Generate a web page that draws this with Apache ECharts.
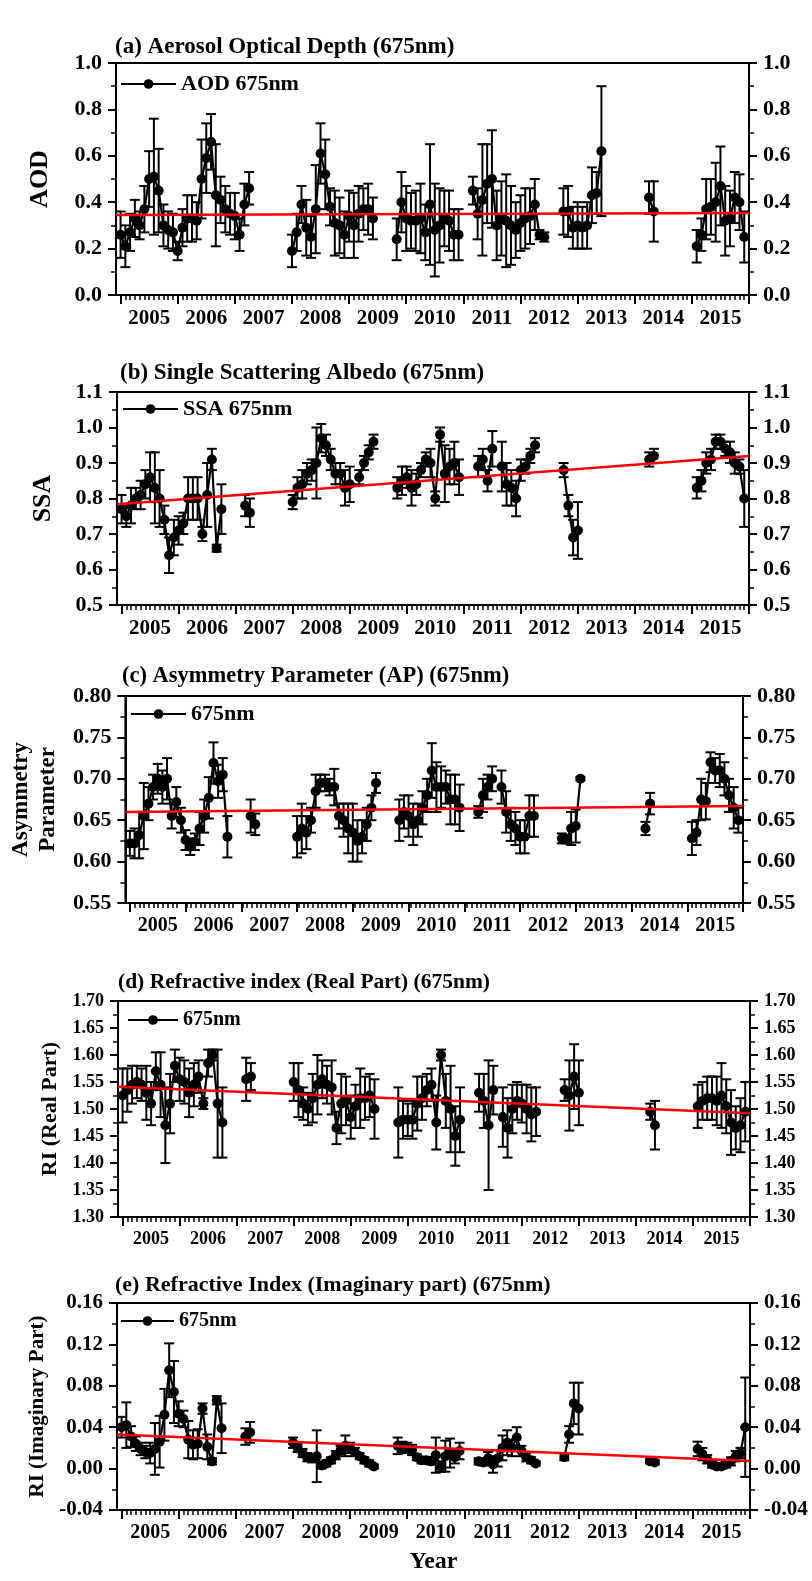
<!DOCTYPE html>
<html><head><meta charset="utf-8">
<script src="https://cdn.jsdelivr.net/npm/echarts@6/dist/echarts.min.js"></script>
<style>html,body{margin:0;padding:0;background:#fff}#c{width:812px;height:1581px}</style>
</head><body><div id="c"></div><script>
const n = null;
// monthly series, Jan 2005 .. Dec 2015 (12 values per year)
const yearTicks = [2005,2006,2007,2008,2009,2010,2011,2012,2013,2014,2015,2016];
const yearLabels = ['2005','2006','2007','2008','2009','2010','2011','2012','2013','2014','2015'];

const aodValues = [
 .26,.21,.27,.33,.30,.37,.50,.51,.45,.30,.28,.27,
 .19,.29,.33,.33,.32,.50,.59,.66,.43,.41,.37,.35,
 .34,.26,.39,.46,n,n,n,n,n,n,n,n,
 .19,.27,.39,.29,.25,.37,.61,.52,.38,.31,.30,.26,
 .34,.30,.35,.37,.37,.33,n,n,n,n,.24,.40,
 .33,.32,.32,.33,.27,.39,.28,.30,.33,.32,.26,.26,
 n,n,.45,.35,.41,.48,.50,.30,.33,.32,.30,.28,
 .31,.33,.34,.39,.26,.25,n,n,n,.36,.36,.29,
 .30,.29,.30,.43,.44,.62,n,n,n,n,n,n,
 n,n,n,.42,.36,n,n,n,n,n,n,n,
 n,.21,.26,.37,.38,.40,.47,.32,.33,.42,.40,.25];
const aodErrors = [
 .10,.09,.08,.08,.06,.10,.12,.25,.18,.09,.08,.08,
 .04,.08,.10,.10,.08,.17,.15,.12,.22,.10,.10,.09,
 .10,.07,.09,.07,n,n,n,n,n,n,n,n,
 .07,.08,.08,.12,.09,.19,.13,.15,.08,.14,.12,.10,
 .11,.14,.12,.09,.11,.09,n,n,n,n,.09,.13,
 .14,.12,.13,.15,.12,.26,.20,.16,.12,.13,.11,.11,
 n,n,.06,.11,.24,.17,.21,.15,.16,.20,.17,.12,
 .12,.13,.12,.11,.02,.02,n,n,n,.10,.11,.09,
 .10,.09,.10,.12,.09,.28,n,n,n,n,n,n,
 n,n,n,.07,.13,n,n,n,n,n,n,n,
 n,.07,.07,.13,.12,.17,.17,.15,.12,.11,.12,.11];
const aodTrend = [0.345, 0.353];

const ssaValues = [
 .77,.75,.78,.80,.81,.84,.86,.83,.80,.74,.64,.69,
 .71,.73,.80,.80,.80,.70,.81,.91,.66,.77,n,n,
 n,n,.78,.76,n,n,n,n,n,n,n,n,
 .79,.83,.84,.87,.88,.90,.97,.95,.91,.87,.87,.83,
 .84,n,.86,.90,.93,.96,n,n,n,n,.83,.85,
 .86,.83,.84,.88,.91,.90,.80,.98,.87,.89,.90,.86,
 n,n,n,.89,.91,.85,.94,n,.89,.84,.83,.80,
 .88,.89,.92,.95,n,n,n,n,n,.88,.78,.69,
 .71,n,n,n,n,n,n,n,n,n,n,n,
 n,n,n,.91,.92,n,n,n,n,n,n,n,
 n,.83,.85,.90,.91,.96,.96,.94,.93,.90,.89,.80];
const ssaErrors = [
 .04,.03,.05,.03,.04,.04,.07,.10,.08,.04,.05,.05,
 .04,.03,.06,.06,.06,.02,.09,.03,.01,.07,n,n,
 n,n,.03,.04,n,n,n,n,n,n,n,n,
 .02,.03,.04,.03,.03,.10,.04,.03,.03,.03,.03,.05,
 .05,n,.02,.02,.02,.02,n,n,n,n,.03,.04,
 .03,.05,.03,.02,.02,.04,.02,.02,.08,.05,.06,.05,
 n,n,n,.03,.03,.03,.05,n,.07,.06,.05,.05,
 .03,.02,.02,.02,n,n,n,n,n,.02,.03,.05,
 .08,n,n,n,n,n,n,n,n,n,n,n,
 n,n,n,.02,.02,n,n,n,n,n,n,n,
 n,.03,.03,.03,.03,.02,.02,.02,.03,.03,.02,.08];
const ssaTrend = [0.784, 0.920];

const apValues = [
 .622,.622,.632,.655,.67,.69,.70,.69,.70,.655,.672,.65,
 .626,.618,.624,.64,.655,.677,.719,.697,.705,.63,n,n,
 n,n,.655,.645,n,n,n,n,n,n,n,n,
 .63,.64,.635,.65,.685,.695,.695,.69,.69,.655,.65,.64,
 .635,.625,.63,.645,.665,.695,n,n,n,n,.65,.66,
 .655,.645,.65,.665,.68,.71,.69,.69,.69,.675,.675,.665,
 n,n,n,.66,.68,.69,.70,n,.69,.66,.645,.64,
 .63,.63,.655,.655,n,n,n,n,n,.628,.627,.64,
 .643,.70,n,n,n,n,n,n,n,n,n,n,
 n,n,n,.64,.67,n,n,n,n,n,n,n,
 n,.628,.635,.675,.673,.72,.71,.71,.70,.68,.665,.65];
const apErrors = [
 .015,.018,.028,.04,.02,.015,.018,.02,.025,.015,.018,.015,
 .012,.01,.01,.02,.02,.025,.025,.02,.02,.025,n,n,
 n,n,.02,.013,n,n,n,n,n,n,n,n,
 .025,.03,.02,.015,.02,.01,.01,.01,.022,.015,.02,.03,
 .035,.025,.02,.02,.015,.012,n,n,n,n,.025,.02,
 .025,.025,.02,.02,.02,.033,.03,.025,.02,.03,.03,.028,
 n,n,n,.007,.02,.015,.015,n,.02,.025,.02,.02,
 .02,.02,.025,.025,n,n,n,n,n,.006,.005,.02,
 .02,.002,n,n,n,n,n,n,n,n,n,n,
 n,n,n,.008,.013,n,n,n,n,n,n,n,
 n,.02,.015,.025,.022,.012,.015,.02,.02,.02,.025,.015];
const apTrend = [0.660, 0.667];

const rirValues = [
 1.525,1.535,1.545,1.55,1.545,1.53,1.51,1.57,1.545,1.47,1.51,1.58,
 1.555,1.55,1.53,1.545,1.56,1.51,1.585,1.60,1.51,1.475,n,n,
 n,n,1.555,1.56,n,n,n,n,n,n,n,n,
 1.55,1.535,1.51,1.50,1.52,1.545,1.555,1.545,1.54,1.465,1.51,1.515,
 1.485,1.505,1.52,1.52,1.525,1.50,n,n,n,n,1.475,1.48,
 1.48,1.48,1.51,1.52,1.535,1.545,1.475,1.60,1.515,1.50,1.45,1.48,
 n,n,n,1.53,1.515,1.47,1.535,n,1.485,1.465,1.50,1.515,
 1.51,1.50,1.49,1.495,n,n,n,n,n,1.535,1.525,1.56,
 1.53,n,n,n,n,n,n,n,n,n,n,n,
 n,n,n,1.495,1.47,n,n,n,n,n,n,n,
 n,1.505,1.515,1.52,1.52,1.515,1.525,1.505,1.475,1.465,1.47,1.495];
const rirErrors = [
 .05,.04,.035,.03,.03,.05,.04,.035,.06,.07,.055,.03,
 .04,.04,.045,.04,.03,.01,.025,.01,.10,.065,n,n,
 n,n,.04,.025,n,n,n,n,n,n,n,n,
 .035,.05,.03,.03,.045,.055,.035,.035,.05,.03,.055,.045,
 .04,.04,.055,.04,.04,.055,n,n,n,n,.065,.035,
 .03,.035,.05,.04,.03,.03,.05,.01,.05,.08,.055,.06,
 n,n,n,.035,.05,.12,.045,n,.055,.055,.045,.035,
 .035,.045,.05,.045,n,n,n,n,n,.02,.065,.06,
 .06,n,n,n,n,n,n,n,n,n,n,n,
 n,n,n,.015,.045,n,n,n,n,n,n,n,
 n,.04,.035,.04,.04,.045,.06,.05,.06,.04,.05,.055];
const rirTrend = [1.541, 1.492];

const riiValues = [
 .040,.042,.031,.024,.019,.016,.015,.019,.026,.052,.095,.074,
 .053,.048,.028,.023,.024,.058,.021,.007,.066,.039,n,n,
 n,n,.031,.035,n,n,n,n,n,n,n,n,
 .025,.020,.015,.011,.010,.012,.003,.005,.008,.013,.018,.022,
 .020,.016,.012,.008,.005,.002,n,n,n,n,.022,.021,
 .020,.018,.011,.008,.008,.007,.013,.002,.012,.015,.011,.017,
 n,n,n,.007,.006,.010,.004,.010,.020,.025,.020,.030,
 .017,.011,.008,.005,n,n,n,n,n,.011,.033,.063,
 .058,n,n,n,n,n,n,n,n,n,n,n,
 n,n,n,.007,.006,n,n,n,n,n,n,n,
 n,.019,.014,.009,.004,.002,.002,.004,.007,.012,.015,.040];
const riiErrors = [
 .010,.022,.010,.007,.006,.006,.010,.025,.025,.025,.026,.030,
 .012,.008,.018,.014,.014,.005,.012,.003,.004,.024,n,n,
 n,n,.008,.010,n,n,n,n,n,n,n,n,
 .005,.004,.004,.004,.004,.025,.003,.003,.003,.004,.004,.010,
 .005,.004,.003,.003,.003,.002,n,n,n,n,.008,.005,
 .005,.005,.003,.003,.003,.003,.017,.005,.015,.014,.006,.008,
 n,n,n,.003,.003,.006,.008,.008,.012,.012,.008,.010,
 .005,.004,.003,.002,n,n,n,n,n,.003,.008,.020,
 .025,n,n,n,n,n,n,n,n,n,n,n,
 n,n,n,.002,.002,n,n,n,n,n,n,n,
 n,.007,.006,.004,.003,.002,.002,.003,.004,.005,.005,.048];
const riiTrend = [0.033, 0.0073];

// ---------- layout / styling ----------
const FONT = "'Liberation Serif','Times New Roman',serif";
const X_MIN = 2004.92, X_MAX = 2016;
const monthTicks = [];
yearTicks.slice(0, 11).forEach(y => { for (let m = 1; m < 12; m++) monthTicks.push(y + m / 12); });
const labelPos = yearLabels.map(s => Number(s) + 0.5);
const monthX = i => 2005 + i / 12;

const panels = [
 {title:'(a) Aerosol Optical Depth (675nm)', name:'AOD 675nm', yName:'AOD', values:aodValues, errors:aodErrors, trend:aodTrend,
  min:0, max:1, interval:0.2, dec:1, grid:{left:116,right:63,top:63,height:232},
  tPos:[115,36], tSize:23, lPos:[120,73], lSize:22, lW:55, yFont:22, xFont:21, yNameSize:26, yNameGap:63},
 {title:'(b) Single Scattering Albedo (675nm)', name:'SSA 675nm', yName:'SSA', values:ssaValues, errors:ssaErrors, trend:ssaTrend,
  min:0.5, max:1.1, interval:0.1, dec:1, grid:{left:117,right:63,top:392,height:213},
  tPos:[120,362], tSize:23, lPos:[122,398], lSize:22, lW:55, yFont:22, xFont:21, yNameSize:26, yNameGap:61},
 {title:'(c) Asymmetry Parameter (AP) (675nm)', name:'675nm', yName:'Asymmetry\nParameter', values:apValues, errors:apErrors, trend:apTrend,
  min:0.55, max:0.80, interval:0.05, dec:2, grid:{left:121,right:69,top:696,height:207},
  tPos:[122,665], tSize:22.5, lPos:[130,703], lSize:22, lW:55, yFont:22, xFont:20, yNameSize:23, yNameGap:60, yNameLH:27},
 {title:'(d) Refractive index (Real Part) (675nm)', name:'675nm', yName:'RI (Real Part)', values:rirValues, errors:rirErrors, trend:rirTrend,
  min:1.30, max:1.70, interval:0.05, dec:2, grid:{left:118,right:62,top:1001,height:216},
  tPos:[118,971], tSize:21.5, lPos:[127,1010], lSize:20, lW:50, yFont:18, xFont:18, yNameSize:22, yNameGap:53},
 {title:'(e) Refractive Index (Imaginary part) (675nm)', name:'675nm', yName:'RI (Imaginary Part)', values:riiValues, errors:riiErrors, trend:riiTrend,
  min:-0.04, max:0.16, interval:0.04, dec:2, grid:{left:117,right:62,top:1303,height:207},
  tPos:[115,1274], tSize:22, lPos:[120,1311], lSize:20, lW:53, yFont:21, xFont:20, yNameSize:21, yNameGap:62, xName:'Year'}
];

const txt = (size, extra) => Object.assign({fontFamily:FONT, fontWeight:'bold', fontSize:size, color:'#000'}, extra || {});
const grids = [], xAxes = [], yAxes = [], series = [], titles = [], legends = [];
const P = panels.length;

panels.forEach((p, k) => {
  grids[k] = Object.assign({show:true, borderColor:'#000', borderWidth:2, backgroundColor:'transparent'}, p.grid);
  grids[P + k] = Object.assign({show:false}, p.grid);
  titles.push({text:p.title, left:p.tPos[0], top:p.tPos[1], padding:0, textStyle:txt(p.tSize)});
  legends.push({data:[p.name], left:p.lPos[0], top:p.lPos[1], padding:0, itemWidth:p.lW, itemHeight:12,
    selectedMode:false, textStyle:txt(p.lSize)});
  // main x axis (year ticks + centered labels)
  xAxes[k] = {gridIndex:k, type:'value', min:X_MIN, max:X_MAX, position:'bottom',
    axisLine:{show:true, onZero:false, lineStyle:{color:'#000', width:2}},
    axisTick:{show:true, customValues:yearTicks, length:9, lineStyle:{color:'#000', width:2}},
    axisLabel:{show:true, customValues:labelPos, formatter:v => String(Math.round(v - 0.5)), margin:13,
      fontFamily:FONT, fontWeight:'bold', fontSize:p.xFont, color:'#000'},
    splitLine:{show:false},
    name:p.xName || '', nameLocation:'middle', nameGap:40, nameTextStyle:txt(24)};
  // monthly minor ticks
  xAxes[P + k] = {gridIndex:P + k, type:'value', min:X_MIN, max:X_MAX, position:'bottom',
    axisLine:{show:false}, axisLabel:{show:false}, splitLine:{show:false},
    axisTick:{show:true, customValues:monthTicks, length:5, lineStyle:{color:'#000', width:1.5}}};
  const yCommon = {type:'value', min:p.min, max:p.max, interval:p.interval,
    axisLine:{show:true, lineStyle:{color:'#000', width:2}},
    axisTick:{show:true, length:8, lineStyle:{color:'#000', width:2}},
    minorTick:{show:true, splitNumber:2, length:5, lineStyle:{color:'#000', width:1.5}},
    splitLine:{show:false}, minorSplitLine:{show:false},
    axisLabel:{formatter:v => v.toFixed(p.dec), margin:14, fontFamily:FONT, fontWeight:'bold', fontSize:p.yFont, color:'#000'}};
  yAxes[k] = Object.assign({}, yCommon, {gridIndex:k, position:'left', name:p.yName, nameLocation:'middle', nameRotate:90,
    nameGap:p.yNameGap, nameTextStyle:txt(p.yNameSize, p.yNameLH ? {lineHeight:p.yNameLH} : {})});
  yAxes[P + k] = Object.assign({}, yCommon, {gridIndex:k, position:'right'});
  yAxes[2 * P + k] = {gridIndex:P + k, type:'value', min:0, max:1, show:false};

  const lineData = p.values.map((v, i) => [monthX(i), v == null ? '-' : v]);
  const errData = [];
  p.values.forEach((v, i) => { if (v != null && p.errors[i] != null) errData.push([monthX(i), v - p.errors[i], v + p.errors[i]]); });

  series.push({type:'custom', name:'err' + k, xAxisIndex:k, yAxisIndex:k, data:errData, z:2, silent:true,
    encode:{x:0, y:[1, 2]},
    renderItem:(params, api) => {
      const x = api.value(0);
      const a = api.coord([x, api.value(1)]), b = api.coord([x, api.value(2)]);
      const w = 5, st = {stroke:'#000', lineWidth:2};
      return {type:'group', children:[
        {type:'line', shape:{x1:a[0], y1:a[1], x2:b[0], y2:b[1]}, style:st},
        {type:'line', shape:{x1:a[0] - w, y1:a[1], x2:a[0] + w, y2:a[1]}, style:st},
        {type:'line', shape:{x1:b[0] - w, y1:b[1], x2:b[0] + w, y2:b[1]}, style:st}]};
    }});
  series.push({type:'line', name:p.name, xAxisIndex:k, yAxisIndex:k, data:lineData, connectNulls:false,
    symbol:'circle', symbolSize:10, itemStyle:{color:'#000'}, lineStyle:{color:'#000', width:2.2}, z:3});
  series.push({type:'line', name:'trend' + k, xAxisIndex:k, yAxisIndex:k, silent:true,
    data:[[X_MIN, p.trend[0]], [X_MAX, p.trend[1]]], symbol:'none', lineStyle:{color:'#ff0000', width:2.5}, z:4});
});

const chart = echarts.init(document.getElementById('c'), null, {renderer:'canvas'});
chart.setOption({animation:false, backgroundColor:'#fff', title:titles, legend:legends,
  grid:grids, xAxis:xAxes, yAxis:yAxes, series:series});
</script></body></html>
